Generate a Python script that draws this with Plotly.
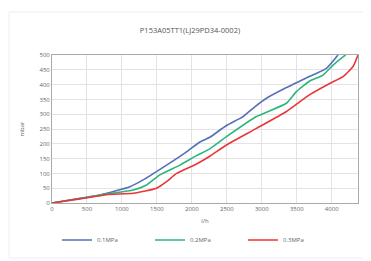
import plotly.graph_objects as go

title = "P153A05TT1(LJ29PD34-0002)"
series_names = ["0.1MPa", "0.2MPa", "0.3MPa"]
colors = ["#5470b8", "#2db57c", "#e8363a"]

x_01 = [0, 400, 686, 1114, 1304, 1638, 1924, 2114, 2257, 2495, 2733, 2900, 3067, 3353, 3650, 3924, 4090]
y_01 = [0, 16, 27, 55, 78, 128, 173, 206, 222, 262, 292, 325, 354, 390, 424, 455, 500]

x_02 = [0, 400, 780, 1161, 1352, 1543, 1829, 2067, 2257, 2495, 2924, 3353, 3495, 3686, 3876, 4019, 4162, 4200]
y_02 = [0, 15, 30, 44, 61, 95, 128, 160, 183, 224, 292, 337, 376, 412, 432, 466, 494, 500]

x_03 = [0, 400, 780, 1161, 1495, 1638, 1781, 2067, 2257, 2495, 2924, 3353, 3686, 3971, 4162, 4305, 4376]
y_03 = [0, 14, 28, 33, 50, 72, 100, 132, 158, 196, 252, 309, 366, 404, 427, 461, 500]

x_ticks = [0, 500, 1000, 1500, 2000, 2500, 3000, 3500, 4000]
y_ticks = [0, 50, 100, 150, 200, 250, 300, 350, 400, 450, 500]

fig = go.Figure()
for xs, ys, name, c in zip([x_01, x_02, x_03], [y_01, y_02, y_03], series_names, colors):
    fig.add_trace(go.Scatter(x=xs, y=ys, mode="lines", name=name,
                             line=dict(color=c, width=1.6, shape="spline", smoothing=0.5)))

W, H = 363, 253  # page body has an 8px margin
font = "Open Sans, Liberation Sans, sans-serif"
fig.update_layout(
    width=W, height=H,
    margin=dict(l=44, r=13, t=47, b=58, autoexpand=False),
    paper_bgcolor="white", plot_bgcolor="white",
    font=dict(family=font, size=6, color="#666666"),
    title=dict(text=title, xref="container", x=182 / W, xanchor="center",
               yref="container", y=1 - 22 / H, yanchor="middle",
               font=dict(size=7.5, color="#555555", family=font)),
    showlegend=True,
    legend=dict(orientation="h", xref="container", x=49 / W, xanchor="left",
                yref="container", y=1 - 232 / H, yanchor="middle",
                font=dict(size=6, color="#666666"), entrywidth=48, entrywidthmode="pixels",
                itemwidth=30, bgcolor="rgba(0,0,0,0)", tracegroupgap=0),
    xaxis=dict(range=[0, 4376], tickvals=x_ticks, showgrid=True, gridcolor="#e3e3e3", gridwidth=1,
               showline=True, linecolor="#aaaaaa", linewidth=1, mirror=True, zeroline=False,
               ticks="", tickfont=dict(size=6, color="#666666"), automargin=False,
               title=dict(text="l/h", font=dict(size=6, color="#666666"), standoff=14)),
    yaxis=dict(range=[0, 500], tickvals=y_ticks, showgrid=True, gridcolor="#e3e3e3", gridwidth=1,
               showline=True, linecolor="#aaaaaa", linewidth=1, mirror=True, zeroline=False,
               ticks="", tickfont=dict(size=6, color="#666666"), automargin=False,
               title=dict(text="mbar", font=dict(size=6, color="#666666"), standoff=14)),
)
fig.add_shape(type="rect", xref="paper", yref="paper",
              x0=(1 - 44) / 306, x1=(361 - 44) / 306, y0=-(250 - 195) / 148, y1=1 + (47 - 4) / 148,
              line=dict(color="#eeeeee", width=1), layer="below")

fig.write_html("out.html")
